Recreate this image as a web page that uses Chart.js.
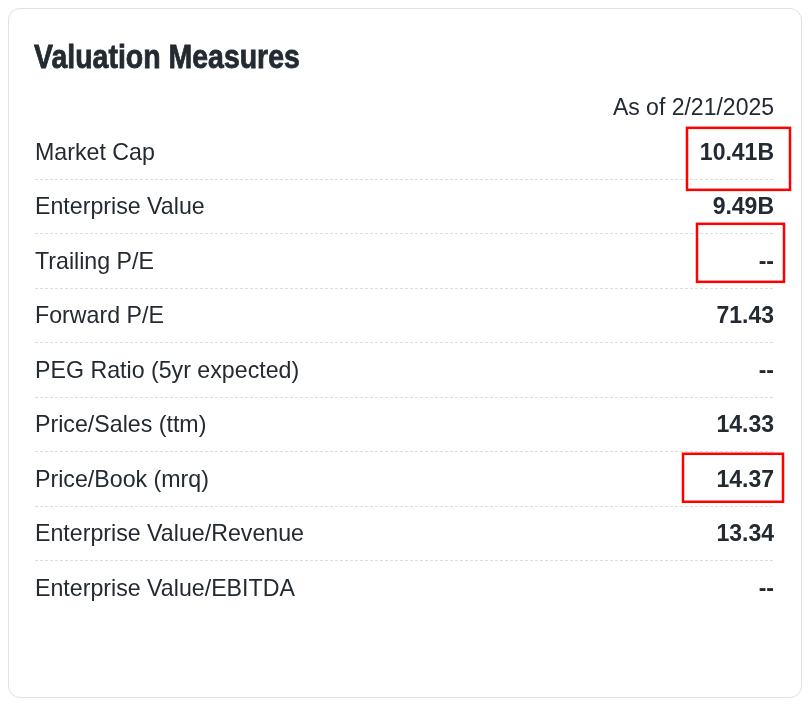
<!DOCTYPE html>
<html><head><meta charset="utf-8">
<script src="https://cdn.jsdelivr.net/npm/chart.js@4/dist/chart.umd.min.js"></script>
<style>
html,body{margin:0;padding:0;background:#fff;}
#card{position:absolute;left:8px;top:8px;width:794px;height:690px;border:1px solid #e0e2e6;border-radius:12px;box-sizing:border-box;}
#wrap{position:absolute;left:0;top:0;width:812px;height:706px;}
</style></head><body>
<div id="card"></div>
<div id="wrap"><canvas id="c"></canvas></div>
<script>
const titleText = 'Valuation Measures';
const asOfText = 'As of 2/21/2025';
const measures = ['Market Cap','Enterprise Value','Trailing P/E','Forward P/E','PEG Ratio (5yr expected)','Price/Sales (ttm)','Price/Book (mrq)','Enterprise Value/Revenue','Enterprise Value/EBITDA'];
const values = ['10.41B','9.49B','--','71.43','--','14.33','14.37','13.34','--'];
const highlightedRows = [0,2,6];

const TEXT = '#232a31';
// highlight box geometry relative to row centre and right edge (style, not data)
const boxGeom = {
  0:{l:-87,r:16,t:-24,b:38},
  2:{l:-77,r:10,t:-37,b:21},
  6:{l:-91,r:9,t:-25,b:23}
};

const tablePlugin = {
  id:'tableText',
  afterDatasetsDraw(chart){
    const {ctx, chartArea:a, scales:{y}} = chart;
    ctx.save();
    // condensed bold heading
    ctx.save();
    ctx.translate(a.left - 1, 68);
    ctx.scale(0.85, 1);
    ctx.font = 'bold 33.5px "Liberation Sans", Arial, sans-serif';
    ctx.textAlign = 'left';
    ctx.textBaseline = 'alphabetic';
    ctx.fillStyle = TEXT;
    ctx.strokeStyle = TEXT;
    ctx.lineWidth = 0.8;
    ctx.fillText(titleText, 0, 0);
    ctx.strokeText(titleText, 0, 0);
    ctx.restore();

    ctx.textBaseline = 'middle';
    measures.forEach((m,i)=>{
      const py = y.getPixelForValue(i) + 1.5;
      ctx.fillStyle = TEXT;
      ctx.font = '23.2px "Liberation Sans", Arial, sans-serif';
      ctx.textAlign = 'left';
      ctx.fillText(m, a.left, py);
      ctx.font = 'bold 23px "Liberation Sans", Arial, sans-serif';
      ctx.textAlign = 'right';
      ctx.fillText(values[i], a.right, py);
    });
    ctx.strokeStyle = '#ff0000';
    ctx.lineWidth = 2.5;
    highlightedRows.forEach(i=>{
      const g = boxGeom[i];
      const py = y.getPixelForValue(i);
      ctx.strokeRect(a.right+g.l, py+g.t, g.r-g.l, g.b-g.t);
    });
    ctx.restore();
  }
};

new Chart(document.getElementById('c'), {
  type:'bar',
  data:{labels:measures, datasets:[]},
  options:{
    indexAxis:'y',
    responsive:true,
    maintainAspectRatio:false,
    animation:false,
    events:[],
    layout:{padding:{left:35,right:38,top:95,bottom:91}},
    plugins:{
      legend:{display:false},
      tooltip:{enabled:false},
      title:{display:false},
      subtitle:{display:true,text:asOfText,align:'end',color:TEXT,
        font:{family:'"Liberation Sans", Arial, sans-serif',size:23,lineHeight:1.2},
        padding:{top:0,bottom:2}}
    },
    scales:{
      x:{type:'linear',display:false,min:0,max:1},
      y:{type:'category',offset:true,display:true,
        ticks:{display:false},
        border:{display:false,dash:[3,2]},
        grid:{offset:true,drawTicks:false,lineWidth:1,
          color:c=>(c.type==='tick' && c.index>0)?'#dcdcdc':'rgba(0,0,0,0)'}}
    }
  },
  plugins:[tablePlugin]
});
</script>
</body></html>
